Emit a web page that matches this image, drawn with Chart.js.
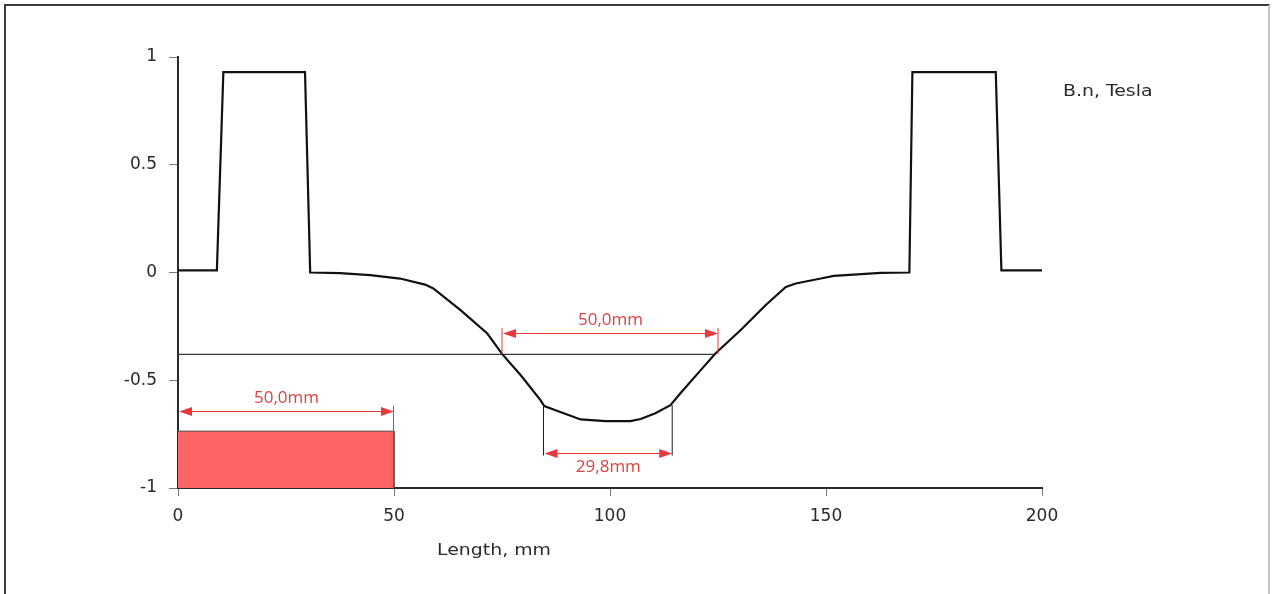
<!DOCTYPE html>
<html>
<head>
<meta charset="utf-8">
<title>B.n along length</title>
<script src="https://cdn.jsdelivr.net/npm/chart.js@4.4.1/dist/chart.umd.min.js"></script>
<style>
  html, body { margin: 0; padding: 0; background: #fff; overflow: hidden; }
  #wrap { position: relative; width: 1274px; height: 594px; }
  #frame {
    position: absolute; left: 4px; top: 4px; width: 1262px; height: 620px;
    border-top: 2px solid #3c3c3c; border-left: 2px solid #3c3c3c; border-right: 2px solid #c4c4c4;
  }
  canvas { position: absolute; left: 0; top: 0; }
</style>
</head>
<body>
<div id="wrap">
  <div id="frame"></div>
  <canvas id="field-chart" width="1274" height="594"></canvas>
</div>
<script>
// Normal flux density along the sample
const lengthMm = [0, 9.0, 10.5, 29.4, 30.6, 37.5, 44.5, 51.4, 57.2, 59.1, 65.4, 71.6, 75.1, 79.3,
  83.9, 84.8, 87.4, 93.2, 99.0, 104.7, 107.1, 110.5, 114.0, 116.3, 121.0, 124.4, 130.2, 136.0,
  140.7, 143.0, 148.8, 151.8, 162.7, 169.3, 170.0, 189.3, 190.6, 200];
const fieldT = [0.01, 0.01, 0.93, 0.93, 0.0, -0.003, -0.012, -0.028, -0.056, -0.074, -0.175, -0.283, -0.38, -0.476,
  -0.592, -0.62, -0.639, -0.682, -0.69, -0.69, -0.68, -0.653, -0.616, -0.56, -0.453, -0.376, -0.268, -0.152,
  -0.067, -0.051, -0.028, -0.016, -0.002, 0.0, 0.93, 0.93, 0.01, 0.01];

// Reference level and where it is read
const levelX = [0, 124.4];
const levelT = [-0.38, -0.38];

// Magnet block, 50 mm long
const blockX = [0, 50, 50];
const blockT = [-0.736, -0.736, -1];

// Dimension marks: from, to, level, text
const dimFrom = [75, 84.6, 0];
const dimTo = [125, 114.4, 50];
const dimLevel = [-0.282, -0.837, -0.642];
const dimText = ['50,0mm', '29,8mm', '50,0mm'];

const xTicks = [0, 50, 100, 150, 200];
const yTicks = [-1, -0.5, 0, 0.5, 1];

const toPoints = (xs, ys) => xs.map((v, i) => ({ x: v, y: ys[i] }));

const RED = '#e83a3a';
const TEXT = '#2a2a2a';

function arrowHead(ctx, px, py, dir) {
  ctx.beginPath();
  ctx.moveTo(px, py);
  ctx.lineTo(px - dir * 13, py - 4.5);
  ctx.lineTo(px - dir * 13, py + 4.5);
  ctx.closePath();
  ctx.fill();
}

// wide caption text, stretched horizontally
function wideText(ctx, text, px, py, align) {
  const w = ctx.measureText(text).width * 1.18;
  const left = align === 'center' ? px - w / 2 : px;
  ctx.save();
  ctx.translate(left, py);
  ctx.scale(1.18, 1);
  ctx.textAlign = 'left';
  ctx.fillText(text, 0, 0);
  ctx.restore();
}

// Dimension arrows, extension lines and axis captions
const dimensionPlugin = {
  id: 'dimensions',
  afterDatasetsDraw(chart) {
    const { ctx, chartArea } = chart;
    const x = chart.scales.x;
    const y = chart.scales.y;
    ctx.save();

    // extension lines
    ctx.lineWidth = 1;
    ctx.strokeStyle = RED;
    ctx.beginPath();
    ctx.moveTo(x.getPixelForValue(dimFrom[0]), y.getPixelForValue(dimLevel[0] + 0.025));
    ctx.lineTo(x.getPixelForValue(dimFrom[0]), y.getPixelForValue(levelT[0]));
    ctx.moveTo(x.getPixelForValue(dimTo[0]), y.getPixelForValue(dimLevel[0] + 0.025));
    ctx.lineTo(x.getPixelForValue(dimTo[0]), y.getPixelForValue(levelT[0]));
    ctx.moveTo(x.getPixelForValue(dimTo[2]) - 0.5, y.getPixelForValue(dimLevel[2] + 0.025));
    ctx.lineTo(x.getPixelForValue(dimTo[2]) - 0.5, y.getPixelForValue(blockT[0]));
    ctx.stroke();

    ctx.strokeStyle = '#1a1a1a';
    ctx.beginPath();
    ctx.moveTo(x.getPixelForValue(dimFrom[1]), y.getPixelForValue(-0.62));
    ctx.lineTo(x.getPixelForValue(dimFrom[1]), y.getPixelForValue(dimLevel[1] - 0.012));
    ctx.moveTo(x.getPixelForValue(dimTo[1]), y.getPixelForValue(-0.616));
    ctx.lineTo(x.getPixelForValue(dimTo[1]), y.getPixelForValue(dimLevel[1] - 0.012));
    ctx.stroke();

    // arrows and labels
    ctx.font = '17px "Open Sans"';
    ctx.textAlign = 'center';
    ctx.textBaseline = 'middle';
    dimText.forEach((label, i) => {
      const x1 = x.getPixelForValue(dimFrom[i]) + 1;
      const x2 = x.getPixelForValue(dimTo[i]);
      const py = Math.round(y.getPixelForValue(dimLevel[i])) + 0.5;
      ctx.strokeStyle = RED;
      ctx.fillStyle = RED;
      ctx.beginPath();
      ctx.moveTo(x1 + 10, py);
      ctx.lineTo(x2 - 10, py);
      ctx.stroke();
      arrowHead(ctx, x1, py, -1);
      arrowHead(ctx, x2, py, 1);
      ctx.fillStyle = '#d84444';
      const below = i === 1;
      ctx.fillText(label, (x1 + x2) / 2, py + (below ? 14 : -13));
    });

    // axis captions
    ctx.fillStyle = TEXT;
    ctx.font = '16px "DejaVu Sans"';
    wideText(ctx, 'Length, mm', chartArea.left + 316, chartArea.bottom + 63, 'center');
    wideText(ctx, 'B.n, Tesla', chartArea.right + 21, chartArea.top + 35, 'left');
    ctx.restore();
  }
};

new Chart(document.getElementById('field-chart'), {
  type: 'line',
  data: {
    datasets: [
      {
        label: 'B.n',
        data: toPoints(lengthMm, fieldT),
        borderColor: '#111',
        borderWidth: 2.2,
        pointRadius: 0,
        tension: 0,
        fill: false
      },
      {
        label: 'level',
        data: toPoints(levelX, levelT),
        borderColor: '#3a3a3a',
        borderWidth: 1.2,
        pointRadius: 0,
        fill: false
      },
      {
        label: 'block',
        data: toPoints(blockX, blockT),
        borderColor: '#555',
        borderWidth: 1,
        pointRadius: 0,
        backgroundColor: '#ff6464',
        fill: 'start'
      }
    ]
  },
  options: {
    responsive: false,
    animation: false,
    layout: { padding: { left: 0, top: 57, right: 232, bottom: 0 } },
    plugins: {
      legend: { display: false },
      tooltip: { enabled: false }
    },
    scales: {
      x: {
        type: 'linear',
        min: 0,
        max: 200,
        afterFit: scale => { scale.height = 106; },
        afterBuildTicks: scale => { scale.ticks = xTicks.map(v => ({ value: v })); },
        grid: { drawOnChartArea: false, drawTicks: true, tickLength: 8, color: '#7a7a7a' },
        border: { display: true, color: '#2a2a2a', width: 2 },
        ticks: {
          padding: 10,
          color: TEXT,
          font: { family: '"DejaVu Sans"', size: 17 },
          maxRotation: 0
        }
      },
      y: {
        type: 'linear',
        min: -1,
        max: 1,
        afterFit: scale => { scale.width = 178; },
        afterBuildTicks: scale => { scale.ticks = yTicks.map(v => ({ value: v })); },
        grid: { drawOnChartArea: false, drawTicks: true, tickLength: 9, color: '#7a7a7a' },
        border: { display: true, color: '#2a2a2a', width: 2 },
        ticks: {
          padding: 12,
          color: TEXT,
          font: { family: '"DejaVu Sans"', size: 17 },
          callback: v => String(v)
        }
      }
    }
  },
  plugins: [dimensionPlugin]
});
</script>
</body>
</html>
